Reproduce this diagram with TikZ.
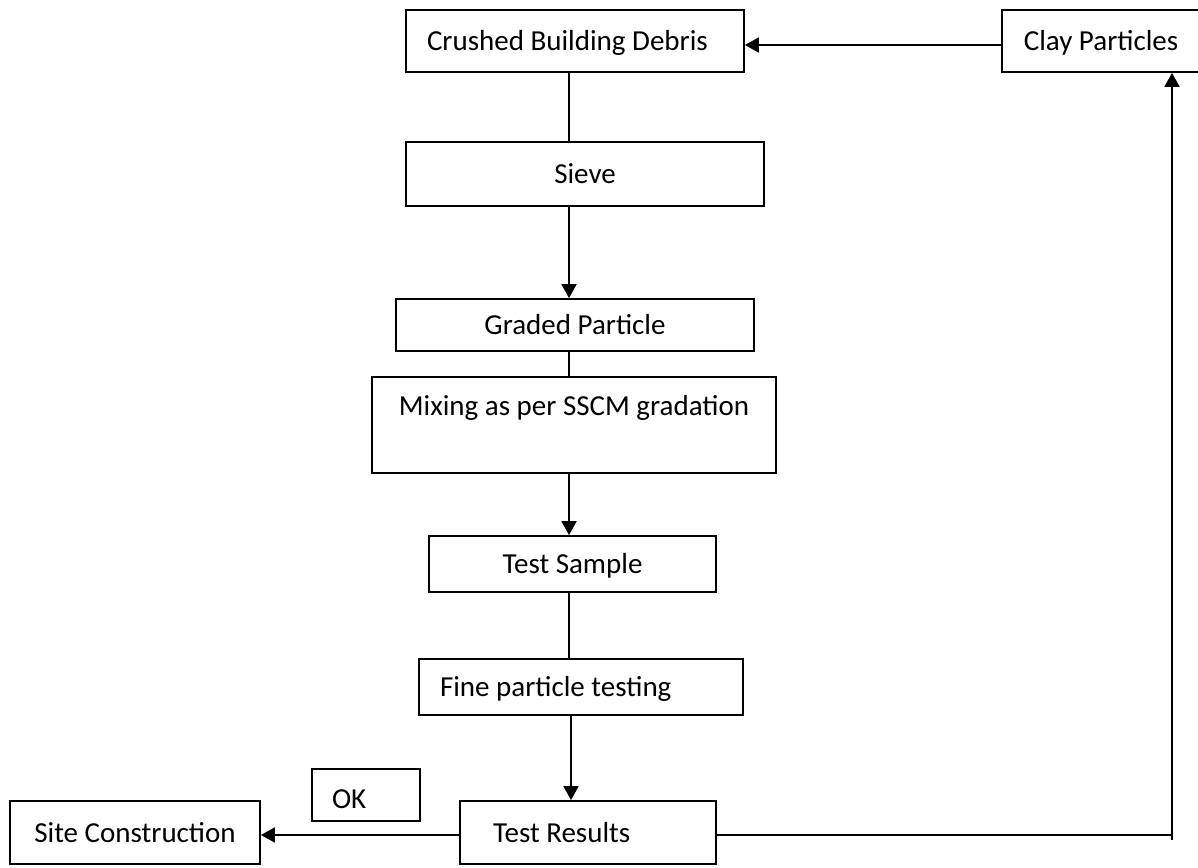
\documentclass[tikz,border=0pt]{standalone}
\usepackage{fontspec}
\setmainfont{Carlito}
\usetikzlibrary{arrows.meta}
\begin{document}
\begin{tikzpicture}[x=1pt,y=-1pt,
  box/.style={draw=black, line width=1.8pt, inner sep=0pt, rectangle,
    font=\fontsize{29}{34}\selectfont, text height=19pt, text depth=0pt},
  conn/.style={draw=black, line width=1.8pt},
  arr/.style={conn, -{Triangle[length=14pt,width=15pt]}}]
\useasboundingbox[fill=white] (0,0) rectangle (1198,867);

\node[box, minimum height=62pt, inner xsep=21pt] (crushed) at (575,41) {\makebox[296pt][l]{Crushed Building Debris}};
\node[box, minimum width=198pt, minimum height=62pt] (clay) at (1101,41) {Clay Particles};
\node[box, minimum width=358pt, minimum height=64pt] (sieve) at (585,174) {Sieve};
\node[box, minimum width=358pt, minimum height=52pt] (graded) at (575,325) {Graded Particle};
\node[box, minimum width=404pt, inner ysep=4pt, text height=34pt, text depth=54pt] (mix) at (574,425) {Mixing as per SSCM gradation};
\node[box, minimum width=287pt, minimum height=56pt] (sample) at (572.5,564) {Test Sample};
\node[box, minimum height=56pt, inner xsep=21pt] (fine) at (581,687) {\makebox[282pt][l]{Fine particle testing}};
\node[box, minimum height=63pt, inner xsep=33pt] (results) at (588,832.5) {\makebox[190pt][l]{Test Results}};
\node[box, minimum width=250pt, minimum height=63pt] (site) at (135,832.5) {Site Construction};
\node[box, minimum height=52pt, inner xsep=20pt, text height=26pt] (ok) at (366,795) {\makebox[68pt][l]{OK}};

\coordinate (cx) at (569,0);
\coordinate (cx2) at (571,0);
\coordinate (rc) at (1172,835);
\coordinate (rcb) at (1172,840);

\draw[arr] ([yshift=-4pt]clay.west) -- ([yshift=-4pt]clay.west -| crushed.east);
\draw[conn] (crushed.south -| cx) -- (sieve.north -| cx);
\draw[arr] (sieve.south -| cx) -- (graded.north -| cx);
\draw[conn] (graded.south -| cx) -- (mix.north -| cx);
\draw[arr] (mix.south -| cx) -- (sample.north -| cx);
\draw[conn] (sample.south -| cx) -- (fine.north -| cx);
\draw[arr] (fine.south -| cx2) -- (results.north -| cx2);
\draw[arr] (rc -| results.west) -- (rc -| site.east);
\draw[conn] (rc -| results.east) -- (rc);
\draw[arr] (rcb) -- (rc |- clay.south);
\end{tikzpicture}
\end{document}
